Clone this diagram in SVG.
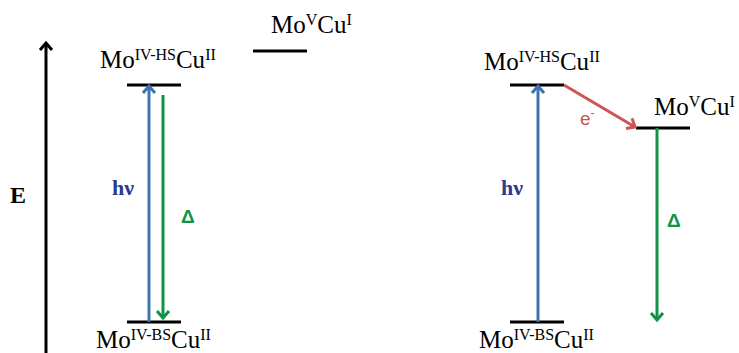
<svg xmlns="http://www.w3.org/2000/svg" width="739" height="353" viewBox="0 0 739 353">
<style>
.lvl{stroke:#000;stroke-width:3;fill:none}
.lab{font-family:"Liberation Serif",serif;font-size:25px;fill:#000}
.sup{font-size:16px}
.blue{stroke:#3a75ad;stroke-width:3;fill:none}
.green{stroke:#0f9447;stroke-width:3;fill:none}
.red{stroke:#cd5552;stroke-width:3;fill:none}
.hv{font-family:"Liberation Serif",serif;font-weight:bold;font-size:22px;fill:#2b3a8a}
.dl{font-family:"Liberation Sans",sans-serif;font-weight:bold;font-size:19px;fill:#0f9447}
</style>
<defs>
<marker id="mb" markerUnits="userSpaceOnUse" markerWidth="16" markerHeight="16" refX="12" refY="8" orient="auto"><path d="M5,2 L12,8 L5,14" fill="none" stroke="#3a75ad" stroke-width="3"/></marker>
<marker id="mg" markerUnits="userSpaceOnUse" markerWidth="16" markerHeight="16" refX="12" refY="8" orient="auto"><path d="M5,2 L12,8 L5,14" fill="none" stroke="#0f9447" stroke-width="3"/></marker>
<marker id="mr" markerUnits="userSpaceOnUse" markerWidth="16" markerHeight="16" refX="12" refY="8" orient="auto"><path d="M5,2 L12,8 L5,14" fill="none" stroke="#cd5552" stroke-width="3"/></marker>
<marker id="mk" markerUnits="userSpaceOnUse" markerWidth="16" markerHeight="16" refX="12" refY="8" orient="auto"><path d="M5,2 L12,8 L5,14" fill="none" stroke="#000" stroke-width="3"/></marker>
</defs>
<g id="axis">
<line x1="46" y1="353" x2="46" y2="43" stroke="#000" stroke-width="3" marker-end="url(#mk)"/>
<text x="10" y="203" font-family="Liberation Serif,serif" font-weight="bold" font-size="24">E</text>
</g>
<g id="left-hs">
<line class="lvl" x1="127" y1="85" x2="181" y2="85"/>
<text class="lab" x="100" y="68">Mo<tspan class="sup" dy="-8">IV-HS</tspan><tspan dy="8">Cu</tspan><tspan class="sup" dy="-8">II</tspan></text>
</g>
<g id="left-v">
<line class="lvl" x1="253" y1="51" x2="307" y2="51"/>
<text class="lab" x="271" y="33">Mo<tspan class="sup" dy="-8">V</tspan><tspan dy="8">Cu</tspan><tspan class="sup" dy="-8">I</tspan></text>
</g>
<g id="left-bs">
<line class="lvl" x1="127" y1="322" x2="181" y2="322"/>
<text class="lab" x="96" y="348">Mo<tspan class="sup" dy="-8">IV-BS</tspan><tspan dy="8">Cu</tspan><tspan class="sup" dy="-8">II</tspan></text>
</g>
<g id="right-hs">
<line class="lvl" x1="510" y1="85" x2="564" y2="85"/>
<text class="lab" x="484" y="70">Mo<tspan class="sup" dy="-8">IV-HS</tspan><tspan dy="8">Cu</tspan><tspan class="sup" dy="-8">II</tspan></text>
</g>
<g id="right-v">
<line class="lvl" x1="636" y1="128" x2="690" y2="128"/>
<text class="lab" x="654" y="115">Mo<tspan class="sup" dy="-8">V</tspan><tspan dy="8">Cu</tspan><tspan class="sup" dy="-8">I</tspan></text>
</g>
<g id="right-bs">
<line class="lvl" x1="510" y1="322" x2="564" y2="322"/>
<text class="lab" x="479" y="348">Mo<tspan class="sup" dy="-8">IV-BS</tspan><tspan dy="8">Cu</tspan><tspan class="sup" dy="-8">II</tspan></text>
</g>
<g id="connectors">
<line class="blue" x1="149" y1="322" x2="149" y2="86" marker-end="url(#mb)"/>
<line class="green" x1="163" y1="95" x2="163" y2="318" marker-end="url(#mg)"/>
<text class="hv" x="112" y="195">hν</text>
<text class="dl" x="181" y="223">Δ</text>
<line class="blue" x1="538" y1="322" x2="538" y2="86" marker-end="url(#mb)"/>
<text class="hv" x="501" y="195">hν</text>
<line class="red" x1="564" y1="85" x2="635" y2="127" marker-end="url(#mr)"/>
<text x="580" y="125" font-family="Liberation Sans,sans-serif" font-size="19" fill="#cd5552">e<tspan font-size="12" dy="-8">-</tspan></text>
<line class="green" x1="657" y1="128" x2="657" y2="320" marker-end="url(#mg)"/>
<text class="dl" x="667" y="227">Δ</text>
</g>
</svg>
